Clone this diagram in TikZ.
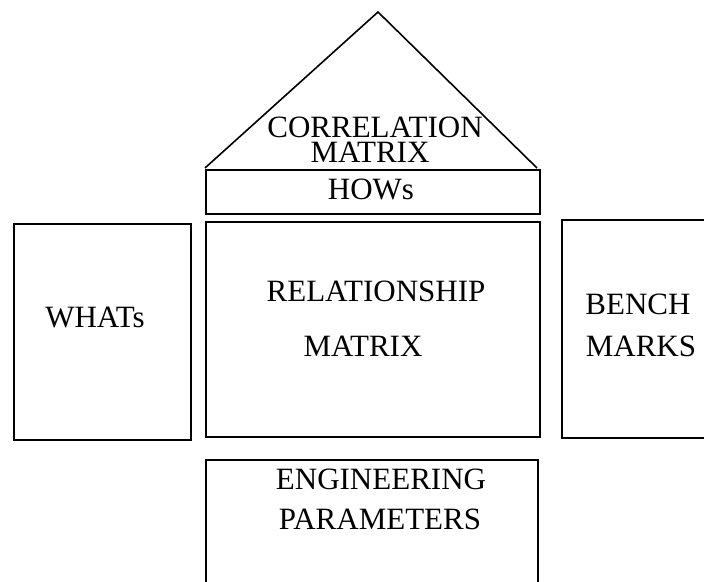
\documentclass[tikz,border=0pt]{standalone}
\usepackage{fontspec}
\setmainfont{Liberation Serif}
\usetikzlibrary{positioning, calc}

\begin{document}
\begin{tikzpicture}[x=1pt,y=1pt,
  room/.style={draw=black,line width=2pt,inner sep=0pt,outer sep=0pt},
  roofline/.style={draw=black,line width=1.6pt,line join=miter},
  lbl/.style={anchor=base,inner sep=0pt,text depth=0pt,text height=21pt,
              font=\fontsize{31}{36}\selectfont}]

\useasboundingbox (0,0) rectangle (704,581);
\clip (0,0) rectangle (704,581);

% Roof (correlation matrix)
\coordinate (roofL) at (205,413);
\coordinate (apex)  at (378,569);
\coordinate (roofR) at (537,413);
\draw[roofline] (roofL) -- (apex) -- (roofR);

% Rooms of the house
\node[room,minimum width=334pt,minimum height=44pt]  (hows)  at (373,389)   {};
\node[room,minimum width=334pt,minimum height=215pt] (rel)   at (373,251.5) {};
\node[room,minimum width=177pt,minimum height=216pt] (whats) at (102.5,249) {};
\node[room,minimum width=158pt,minimum height=218pt] (bench) at (641,252)   {};
\node[room,minimum width=332pt,minimum height=140pt] (eng)   at (372,51)    {};

% Texts
\foreach \i/\txt/\x/\y in {%
  corr/CORRELATION/375/443,
  cmat/MATRIX/370/418,
  how/HOWs/371/381,
  rship/RELATIONSHIP/376/279,
  rmat/MATRIX/363/224,
  what/WHATs/95/253,
  bnch/BENCH/638/266,
  mrks/MARKS/641/224,
  engi/ENGINEERING/381/91,
  para/PARAMETERS/380/51}
   \node[lbl] (t\i) at (\x,\y) {\txt};
\end{tikzpicture}
\end{document}
